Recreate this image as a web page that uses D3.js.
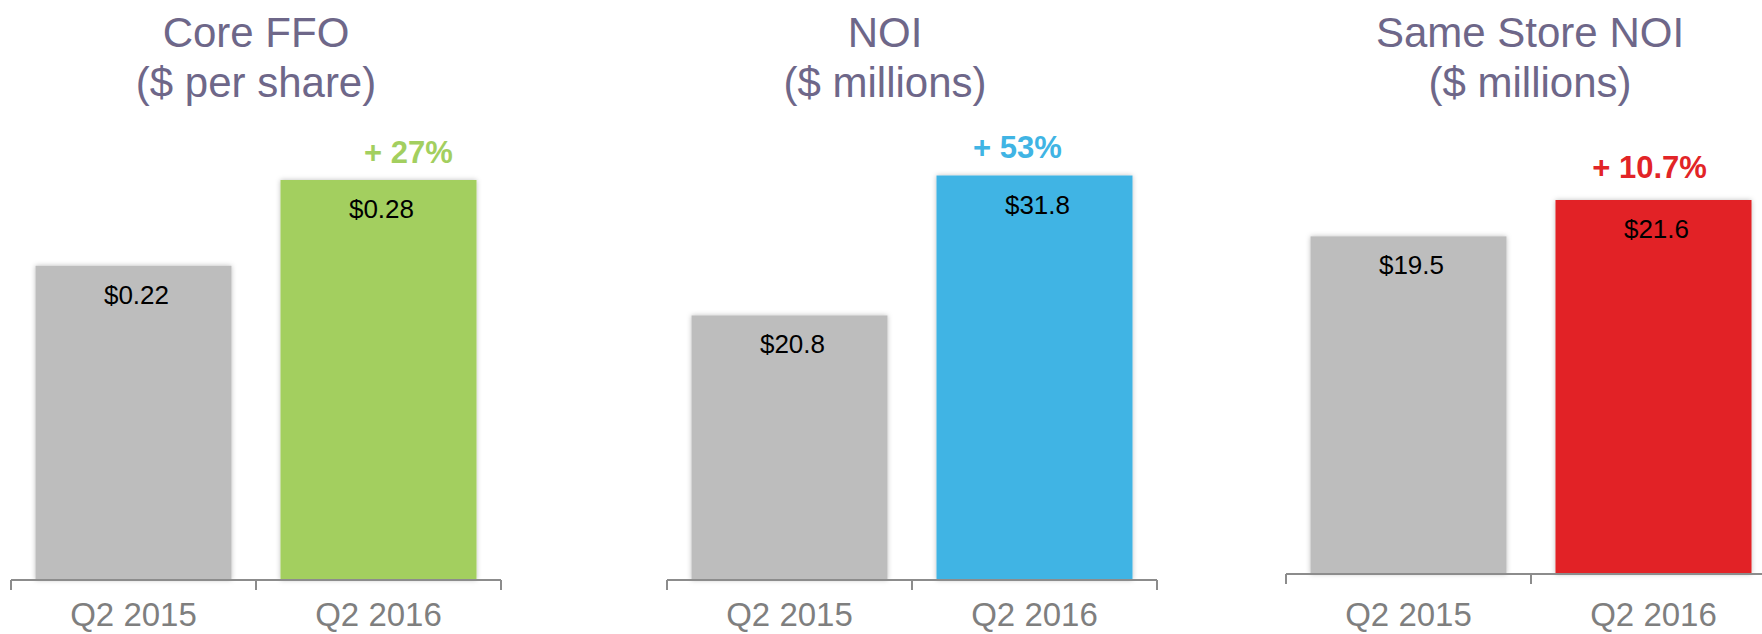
<!DOCTYPE html>
<html>
<head>
<meta charset="utf-8">
<script src="https://cdn.jsdelivr.net/npm/d3@7"></script>
<style>
  html, body { margin: 0; padding: 0; background: #fff; }
  svg { display: block; font-family: 'Liberation Sans', Arial, sans-serif; }
</style>
</head>
<body>
<svg id="chart"></svg>
<script>
let categories = ['Q2 2015', 'Q2 2016']

let titles = [
  ['Core FFO', '($ per share)'],
  ['NOI', '($ millions)'],
  ['Same Store NOI', '($ millions)']
]

let coreFfo = [0.22, 0.28]
let noi = [20.8, 31.8]
let sameStoreNoi = [19.5, 21.6]

let growthLabels = ['+ 27%', '+ 53%', '+ 10.7%']
let valueFormats = ['$.2f', '$.1f', '$.1f']
let highlightColors = ['#a3cf5f', '#40b4e4', '#e22427']

// layout of each small chart on the page
let layout = [
  { x0: 11, baseline: 580, maxTop: 180, titleX: 256, pctDx: 30, pctDy: -17 },
  { x0: 667, baseline: 580, maxTop: 175.5, titleX: 885, pctDx: -17, pctDy: -17.5 },
  { x0: 1286, baseline: 574, maxTop: 200, titleX: 1530, pctDx: -4, pctDy: -22 }
]

let width = 1762
let height = 634
let axisWidth = 490

let series = [coreFfo, noi, sameStoreNoi]

let svg = d3.select('#chart')
    .attr('width', width)
    .attr('height', height)

let defs = svg.append('defs')
defs.append('filter')
    .attr('id', 'shadow')
    .attr('x', '-10%').attr('y', '-10%')
    .attr('width', '120%').attr('height', '120%')
  .append('feDropShadow')
    .attr('dx', 0)
    .attr('dy', 0)
    .attr('stdDeviation', 2.5)
    .attr('flood-color', '#000')
    .attr('flood-opacity', 0.25)

series.forEach((values, i) => {
  let cfg = layout[i]
  let g = svg.append('g')

  let xScale = d3.scaleBand()
                  .domain(categories)
                  .range([cfg.x0, cfg.x0 + axisWidth])
                  .paddingInner(0.2)
                  .paddingOuter(0.1)

  let yScale = d3.scaleLinear()
                  .domain([0, d3.max(values)])
                  .range([cfg.baseline, cfg.maxTop])

  let step = xScale.step()
  let boundaries = categories.map(c => xScale(c) - step * 0.1)
  boundaries.push(boundaries[boundaries.length - 1] + step)

  // title
  g.append('text')
      .attr('x', cfg.titleX)
      .attr('y', 47)
      .style('text-anchor', 'middle')
      .style('font-size', '42px')
      .attr('fill', '#6e6789')
      .text(titles[i][0])

  g.append('text')
      .attr('x', cfg.titleX)
      .attr('y', 97)
      .style('text-anchor', 'middle')
      .style('font-size', '42px')
      .attr('fill', '#6e6789')
      .text(titles[i][1])

  // bars
  g.selectAll('rect')
    .data(values)
    .enter()
    .append('rect')
      .attr('x', (d, j) => xScale(categories[j]))
      .attr('y', d => yScale(d))
      .attr('width', xScale.bandwidth())
      .attr('height', d => cfg.baseline - yScale(d))
      .attr('fill', (d, j) => j === 0 ? '#bdbdbd' : highlightColors[i])
      .attr('filter', 'url(#shadow)')

  // value labels inside bars
  let fmt = d3.format(valueFormats[i])
  g.selectAll('.value')
    .data(values)
    .enter()
    .append('text')
      .classed('value', true)
      .attr('x', (d, j) => xScale(categories[j]) + xScale.bandwidth() / 2 + 3)
      .attr('y', d => yScale(d) + 38)
      .style('text-anchor', 'middle')
      .style('font-size', '26px')
      .attr('fill', '#000')
      .text(d => fmt(d))

  // growth label
  g.append('text')
      .attr('x', xScale(categories[1]) + xScale.bandwidth() / 2 + cfg.pctDx)
      .attr('y', yScale(values[1]) + cfg.pctDy)
      .style('text-anchor', 'middle')
      .style('font-size', '31px')
      .style('font-weight', 'bold')
      .attr('fill', highlightColors[i])
      .text(growthLabels[i])

  // axis line with boundary ticks
  g.append('line')
      .attr('x1', boundaries[0])
      .attr('x2', boundaries[boundaries.length - 1])
      .attr('y1', cfg.baseline)
      .attr('y2', cfg.baseline)
      .attr('stroke', '#8c8c8c')
      .attr('stroke-width', 2)

  g.selectAll('.tick')
    .data(boundaries)
    .enter()
    .append('line')
      .classed('tick', true)
      .attr('x1', d => d)
      .attr('x2', d => d)
      .attr('y1', cfg.baseline)
      .attr('y2', cfg.baseline + 10)
      .attr('stroke', '#8c8c8c')
      .attr('stroke-width', 2)

  // category labels
  g.selectAll('.cat')
    .data(categories)
    .enter()
    .append('text')
      .classed('cat', true)
      .attr('x', d => xScale(d) + xScale.bandwidth() / 2)
      .attr('y', Math.min(cfg.baseline + 52, 626))
      .style('text-anchor', 'middle')
      .style('font-size', '33px')
      .attr('fill', '#7f7f7f')
      .text(d => d)
})
</script>
</body>
</html>
